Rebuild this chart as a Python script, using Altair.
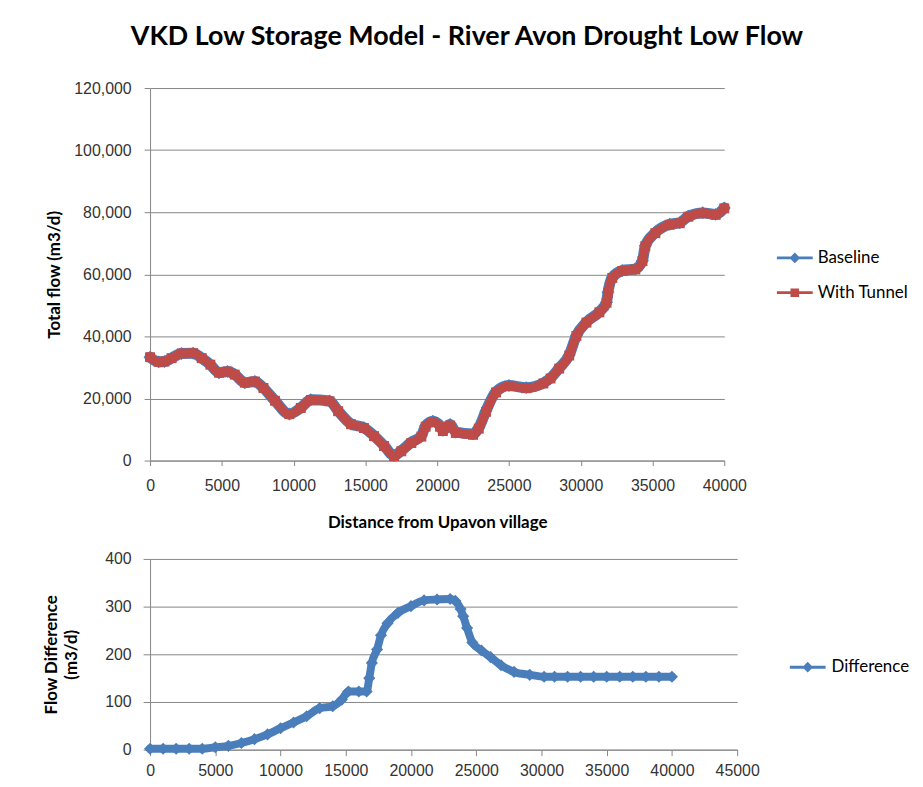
import altair as alt
import pandas as pd

# ---- data ----
distance = [0, 600, 1000, 1500, 2200, 3000, 3600, 4200, 4800, 5400, 5900, 6600, 7300, 7900,
            8700, 9700, 10500, 11200, 12500, 13100, 14000, 14900, 15600, 16300, 17000, 17500,
            18200, 18900, 19200, 19700, 20200, 20400, 20900, 21300, 22500, 22900, 23400, 24100,
            25000, 26200, 27400, 27900, 28500, 29200, 29700, 30400, 31300, 31800, 31900, 32200,
            32900, 33800, 34300, 34500, 35200, 36200, 36900, 37500, 38500, 39400, 40000]
baseline = [33300, 31800, 31900, 33000, 34500, 34600, 33000, 30900, 28300, 28700, 27700, 25100,
            25500, 23400, 19300, 15000, 17000, 19600, 19200, 16000, 11800, 10600, 8000, 4800,
            1600, 3200, 5900, 8000, 11200, 12700, 11200, 9800, 11600, 9200, 8600, 10600, 16000,
            22200, 24200, 23500, 25000, 26600, 29800, 34000, 40300, 44600, 47900, 51000, 54200,
            59000, 61200, 61700, 64400, 69200, 73400, 76100, 76600, 78700, 79800, 79300, 81400]
with_tunnel = [33300, 31800, 31900, 33000, 34500, 34600, 33000, 30900, 28300, 28690, 27690, 25090,
               25480, 23380, 19270, 14960, 16950, 19540, 19120, 15910, 11710, 10490, 7880, 4680,
               1420, 2990, 5640, 7720, 10910, 12400, 10900, 9500, 11290, 8890, 8290, 10290, 15690,
               21930, 23990, 23310, 24830, 26440, 29640, 33840, 40150, 44450, 47750, 50850, 54050,
               58850, 61050, 61550, 64250, 69050, 73250, 75950, 76450, 78550, 79650, 79150, 81250]

diff_distance = [0, 1000, 2000, 3000, 4000, 5000, 6000, 7000, 8000, 9000, 10000, 11000, 12000,
                 13000, 14000, 14700, 15200, 16000, 16600, 16800, 17000, 17400, 17700, 18200,
                 19000, 20000, 21000, 22000, 23000, 23400, 23800, 24000, 24300, 24700, 25400,
                 26100, 26900, 27900, 29100, 30200, 31000, 32000, 33000, 34000, 35000, 36000,
                 37000, 38000, 39000, 40000]
difference = [2, 2, 2, 2, 2, 5, 8, 14, 22, 32, 45, 57, 70, 87, 91, 105, 122, 122, 122, 150, 182,
              210, 240, 265, 287, 301, 313, 315, 316, 312, 295, 280, 255, 225, 208, 194, 177, 163,
              157, 153, 153, 153, 153, 153, 153, 153, 153, 153, 153, 153]

series_names = ["Baseline", "With Tunnel"]
x_ticks_top = [0, 5000, 10000, 15000, 20000, 25000, 30000, 35000, 40000]
y_ticks_top = [0, 20000, 40000, 60000, 80000, 100000, 120000]
x_ticks_bot = [0, 5000, 10000, 15000, 20000, 25000, 30000, 35000, 40000, 45000]
y_ticks_bot = [0, 100, 200, 300, 400]

BLUE = "#4A7EBB"
RED = "#BE4B48"
GRID = "#868686"

LINE_DIAMOND = "M-1,-0.08H1V0.08H-1Z M0,-0.3L0.3,0L0,0.3L-0.3,0Z"
LINE_SQUARE = "M-1,-0.08H1V0.08H-1Z M-0.24,-0.24H0.24V0.24H-0.24Z"

top_df = pd.concat([
    pd.DataFrame({"dist": distance, "flow": baseline, "series": "Baseline"}),
    pd.DataFrame({"dist": distance, "flow": with_tunnel, "series": "With Tunnel"}),
])
diff_df = pd.DataFrame({"dist": diff_distance, "diff": difference, "series2": "Difference"})

# ---- top chart ----
x_top = alt.X("dist:Q", scale=alt.Scale(domain=[0, 40000], nice=False),
              axis=alt.Axis(values=x_ticks_top, format="d", grid=False, labelOverlap=False,
                            labelFlush=False,
                            title="Distance from Upavon village", titleFontSize=17,
                            tickSize=5, labelPadding=12, titlePadding=21))
y_top = alt.Y("flow:Q", scale=alt.Scale(domain=[0, 120000], nice=False),
              axis=alt.Axis(values=y_ticks_top, format=",d", grid=True, labelOverlap=False,
                            title="Total flow (m3/d)", titleFontSize=17,
                            tickSize=6, labelPadding=13, titlePadding=10))

tb = alt.Chart(top_df)
base_b = tb.transform_filter(alt.datum.series == "Baseline")
base_t = tb.transform_filter(alt.datum.series == "With Tunnel")

layers_top = [
    base_b.mark_line(color=BLUE, strokeWidth=11, strokeJoin="round", strokeCap="round",
                     interpolate="monotone").encode(x=x_top, y=y_top),
    base_b.mark_point(shape="diamond", filled=True, color=BLUE, size=170, opacity=1).encode(x=x_top, y=y_top),
    base_t.mark_line(color=RED, strokeWidth=9, strokeJoin="round", strokeCap="round",
                     interpolate="monotone").encode(x=x_top, y=y_top),
    base_t.mark_point(shape="square", filled=True, color=RED, size=100, opacity=1).encode(x=x_top, y=y_top),
]

legend_top = alt.Legend(orient="none", legendX=631, legendY=153, title=None, symbolSize=1296,
                        symbolStrokeWidth=0, labelFont="Lato", labelFontSize=17, labelColor="black",
                        labelOffset=5, rowPadding=9)
legend_layer_top = alt.Chart(pd.DataFrame({"series": series_names})).transform_filter("false").mark_point(
    filled=True, opacity=1).encode(
    color=alt.Color("series:N", scale=alt.Scale(domain=series_names, range=[BLUE, RED]), legend=legend_top),
    shape=alt.Shape("series:N", scale=alt.Scale(domain=series_names, range=[LINE_DIAMOND, LINE_SQUARE]),
                    legend=legend_top),
)

top = alt.layer(*layers_top, legend_layer_top).properties(
    width=578, height=375,
    title=alt.Title("VKD Low Storage Model - River Avon Drought Low Flow", font="Lato", fontSize=27,
                    fontWeight="bold", color="black", offset=29, dx=30),
)

# ---- bottom chart ----
x_bot = alt.X("dist:Q", scale=alt.Scale(domain=[0, 45000], nice=False),
              axis=alt.Axis(values=x_ticks_bot, format="d", grid=False, title=None, labelOverlap=False,
                            labelFlush=False, tickSize=6, labelPadding=7))
y_bot = alt.Y("diff:Q", scale=alt.Scale(domain=[0, 400], nice=False),
              axis=alt.Axis(values=y_ticks_bot, format="d", grid=True, title=["Flow Difference", "(m3/d)"],
                            labelOverlap=False, titleFontSize=17, titleLineHeight=20,
                            tickSize=7, labelPadding=12, titlePadding=24))

bb = alt.Chart(diff_df)
layers_bot = [
    bb.mark_line(color=BLUE, strokeWidth=8, strokeJoin="round", strokeCap="round",
                 interpolate="monotone").encode(x=x_bot, y=y_bot),
    bb.mark_point(shape="diamond", filled=True, color=BLUE, size=150, opacity=1).encode(x=x_bot, y=y_bot),
]
legend_bot = alt.Legend(orient="none", legendX=644, legendY=91, title=None, symbolSize=1296,
                        symbolStrokeWidth=0, labelFont="Lato", labelFontSize=17, labelColor="black",
                        labelOffset=6)
legend_layer_bot = alt.Chart(pd.DataFrame({"series2": ["Difference"]})).transform_filter("false").mark_point(
    filled=True, opacity=1).encode(
    color=alt.Color("series2:N", scale=alt.Scale(domain=["Difference"], range=[BLUE]), legend=legend_bot),
    shape=alt.Shape("series2:N", scale=alt.Scale(domain=["Difference"], range=[LINE_DIAMOND]),
                    legend=legend_bot),
)
bottom = alt.layer(*layers_bot, legend_layer_bot).properties(width=591, height=192)

chart = alt.vconcat(top, bottom, spacing=21).resolve_scale(
    color="independent", shape="independent", x="independent", y="independent"
).properties(
    padding={"left": 35, "top": 13, "right": 5, "bottom": 5},
    background="white",
).configure_view(stroke=None).configure_axis(
    labelFont="Liberation Sans", labelFontSize=16, labelColor="#333333",
    domainColor=GRID, tickColor=GRID, gridColor=GRID, gridWidth=1, domainWidth=1,
    titleFont="Lato", titleFontWeight="bold", titleColor="black",
)

chart.save("out.html", embed_options={"renderer": "svg", "actions": False})
